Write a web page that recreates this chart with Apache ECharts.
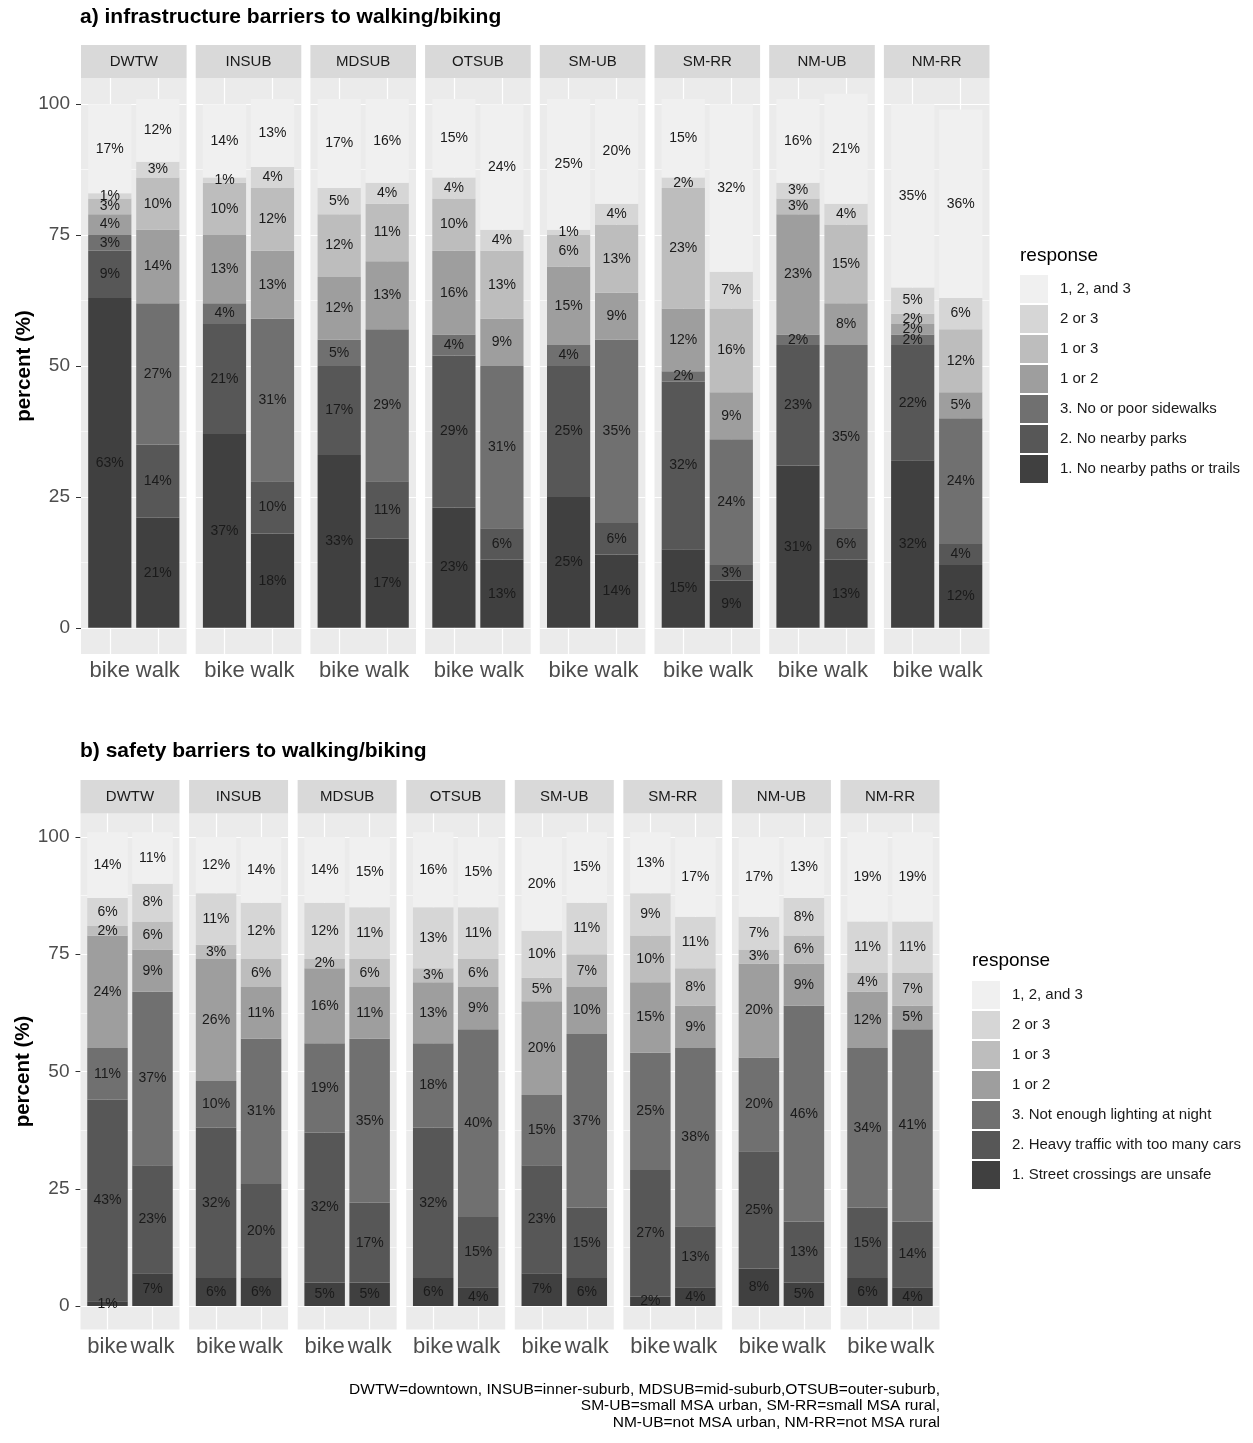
<!DOCTYPE html>
<html>
<head>
<meta charset="utf-8">
<script src="https://cdn.jsdelivr.net/npm/echarts@6/dist/echarts.min.js"></script>
<style>
  html, body { margin: 0; padding: 0; background: #fff; }
  #chart { width: 1253px; height: 1443px; }
</style>
</head>
<body>
<div id="chart"></div>
<script>
// Area types (facets) and travel modes (bars within each facet)
const regions = ['DWTW', 'INSUB', 'MDSUB', 'OTSUB', 'SM-UB', 'SM-RR', 'NM-UB', 'NM-RR'];
const modes = ['bike', 'walk'];
const yTicks = [0, 25, 50, 75, 100];

// Response levels, stacked bottom to top
const infraLevels = ['1. No nearby paths or trails', '2. No nearby parks', '3. No or poor sidewalks',
  '1 or 2', '1 or 3', '2 or 3', '1, 2, and 3'];
const safetyLevels = ['1. Street crossings are unsafe', '2. Heavy traffic with too many cars',
  '3. Not enough lighting at night', '1 or 2', '1 or 3', '2 or 3', '1, 2, and 3'];

// a) infrastructure barriers, percent; pairs are (bike, walk) per region in the order above
const infraPaths     = [63, 21, 37, 18, 33, 17, 23, 13, 25, 14, 15, 9, 31, 13, 32, 12];
const infraParks     = [9, 14, 21, 10, 17, 11, 29, 6, 25, 6, 32, 3, 23, 6, 22, 4];
const infraSidewalks = [3, 27, 4, 31, 5, 29, 4, 31, 4, 35, 2, 24, 2, 35, 2, 24];
const infra1or2      = [4, 14, 13, 13, 12, 13, 16, 9, 15, 9, 12, 9, 23, 8, 2, 5];
const infra1or3      = [3, 10, 10, 12, 12, 11, 10, 13, 6, 13, 23, 16, 3, 15, 2, 12];
const infra2or3      = [1, 3, 1, 4, 5, 4, 4, 4, 1, 4, 2, 7, 3, 4, 5, 6];
const infraAll       = [17, 12, 14, 13, 17, 16, 15, 24, 25, 20, 15, 32, 16, 21, 35, 36];

// b) safety barriers, percent; pairs are (bike, walk) per region
const safetyCrossings = [1, 7, 6, 6, 5, 5, 6, 4, 7, 6, 2, 4, 8, 5, 6, 4];
const safetyTraffic   = [43, 23, 32, 20, 32, 17, 32, 15, 23, 15, 27, 13, 25, 13, 15, 14];
const safetyLighting  = [11, 37, 10, 31, 19, 35, 18, 40, 15, 37, 25, 38, 20, 46, 34, 41];
const safety1or2      = [24, 9, 26, 11, 16, 11, 13, 9, 20, 10, 15, 9, 20, 9, 12, 5];
const safety1or3      = [2, 6, 3, 6, 2, 6, 3, 6, 5, 7, 10, 8, 3, 6, 4, 7];
const safety2or3      = [6, 8, 11, 12, 12, 11, 13, 11, 10, 11, 9, 11, 7, 8, 11, 11];
const safetyAll       = [14, 11, 12, 14, 14, 15, 16, 15, 20, 15, 13, 17, 17, 13, 19, 19];

const footnote = 'DWTW=downtown, INSUB=inner-suburb, MDSUB=mid-suburb,OTSUB=outer-suburb,\n' +
  'SM-UB=small MSA urban, SM-RR=small MSA rural,\n' +
  'NM-UB=not MSA urban, NM-RR=not MSA rural';

const FONT = "'Liberation Sans', Arial, Helvetica, sans-serif";
const fills = ['#404040', '#575757', '#707070', '#9E9E9E', '#BDBDBD', '#D6D6D6', '#F0F0F0'];

const blocks = [
  {
    title: 'a) infrastructure barriers to walking/biking',
    levels: infraLevels,
    values: [infraPaths, infraParks, infraSidewalks, infra1or2, infra1or3, infra2or3, infraAll],
    titleTop: 7, stripTop: 45, top: 78, height: 576,
    left0: 81, step: 114.7, width: 105.6,
    legendLeft: 1020, legendTop: 275, legendTitleY: 256
  },
  {
    title: 'b) safety barriers to walking/biking',
    levels: safetyLevels,
    values: [safetyCrossings, safetyTraffic, safetyLighting, safety1or2, safety1or3, safety2or3, safetyAll],
    titleTop: 741, stripTop: 780, top: 813.5, height: 516,
    left0: 80.5, step: 108.57, width: 99,
    legendLeft: 972, legendTop: 981, legendTitleY: 961
  }
];

const option = {
  animation: false,
  backgroundColor: '#ffffff',
  textStyle: { fontFamily: FONT },
  title: [], grid: [], xAxis: [], yAxis: [], series: [], legend: [],
  graphic: { elements: [] }
};

// panel grid lines (white), drawn beneath the bars
function gridLines() {
  const data = [];
  yTicks.forEach(v => data.push({ yAxis: v, lineStyle: { width: 1.2 } }));
  [12.5, 37.5, 62.5, 87.5].forEach(v => data.push({ yAxis: v, lineStyle: { width: 0.6 } }));
  [1, 2].forEach(v => data.push({ xAxis: v, lineStyle: { width: 1.2 } }));
  return {
    silent: true, symbol: ['none', 'none'], z: 1, animation: false,
    label: { show: false },
    lineStyle: { color: '#FFFFFF', type: 'solid', width: 1.2 },
    emphasis: { disabled: true },
    data
  };
}

blocks.forEach((b, c) => {
  option.title.push({
    text: b.title, left: 80, top: b.titleTop, padding: 0,
    textStyle: { fontFamily: FONT, fontSize: 21, fontWeight: 'bold', color: '#000' }
  });

  regions.forEach((reg, f) => {
    const gi = option.grid.length;
    const left = b.left0 + f * b.step;
    const unit = b.width / 2.2;
    const first = f === 0;

    option.grid.push({
      left, top: b.top, width: b.width, height: b.height,
      show: true, backgroundColor: '#EBEBEB', borderWidth: 0
    });
    option.xAxis.push({
      type: 'value', gridIndex: gi, min: 0.4, max: 2.6,
      axisLine: { show: false }, splitLine: { show: false },
      axisTick: { show: true, customValues: [1, 2], length: 5, lineStyle: { color: '#333333' } },
      axisLabel: {
        customValues: [1, 2], formatter: v => modes[Math.round(v) - 1],
        fontSize: 22, color: '#4D4D4D', margin: 6, fontFamily: FONT
      }
    });
    option.yAxis.push({
      type: 'value', gridIndex: gi, min: -5, max: 105,
      axisLine: { show: false }, splitLine: { show: false },
      axisTick: { show: first, customValues: yTicks, length: 5, lineStyle: { color: '#333333' } },
      axisLabel: { show: first, customValues: yTicks, fontSize: 19, color: '#4D4D4D', margin: 11, fontFamily: FONT },
      name: first ? 'percent (%)' : '', nameLocation: 'middle', nameGap: 46,
      nameTextStyle: { fontSize: 20.5, fontWeight: 'bold', color: '#000', fontFamily: FONT }
    });

    b.levels.forEach((name, k) => {
      const vals = b.values[k];
      const s = {
        type: 'bar', name,
        xAxisIndex: gi, yAxisIndex: gi,
        stack: 'c' + c + 'f' + f,
        barWidth: 0.9 * unit,
        encode: { x: 1, y: 0 },
        data: modes.map((m, j) => [vals[2 * f + j], j + 1]),
        itemStyle: { color: fills[k] },
        label: {
          show: true, position: 'inside',
          formatter: q => q.value[0] + '%',
          fontSize: 14, color: '#1A1A1A', fontFamily: FONT
        },
        emphasis: { disabled: true }
      };
      if (k === 0) s.markLine = gridLines();
      option.series.push(s);
    });

    // facet strip
    option.graphic.elements.push({
      type: 'rect', silent: true,
      shape: { x: left, y: b.stripTop, width: b.width, height: b.top - b.stripTop },
      style: { fill: '#D9D9D9' }
    });
    option.graphic.elements.push({
      type: 'text', silent: true,
      x: left + b.width / 2, y: b.stripTop + (b.top - b.stripTop) / 2,
      style: {
        text: reg, fill: '#1A1A1A', font: '15px ' + FONT,
        textAlign: 'center', textVerticalAlign: 'middle'
      }
    });
  });

  option.legend.push({
    orient: 'vertical', left: b.legendLeft, top: b.legendTop,
    itemWidth: 28, itemHeight: 28, itemGap: 2, icon: 'rect',
    selectedMode: false, padding: 0,
    data: b.levels.slice().reverse(),
    textStyle: { fontSize: 15, color: '#1A1A1A', fontFamily: FONT, padding: [0, 0, 0, 7] }
  });
  option.graphic.elements.push({
    type: 'text', silent: true,
    x: b.legendLeft, y: b.legendTitleY,
    style: { text: 'response', fill: '#000', font: '19px ' + FONT, textAlign: 'left', textVerticalAlign: 'middle' }
  });
});

option.graphic.elements.push({
  type: 'text', silent: true, x: 940, y: 1381,
  style: {
    text: footnote, fill: '#000', font: '15.5px ' + FONT,
    textAlign: 'right', textVerticalAlign: 'top', lineHeight: 16.5
  }
});

const chart = echarts.init(document.getElementById('chart'), null, { renderer: 'canvas' });
chart.setOption(option);
</script>
</body>
</html>
